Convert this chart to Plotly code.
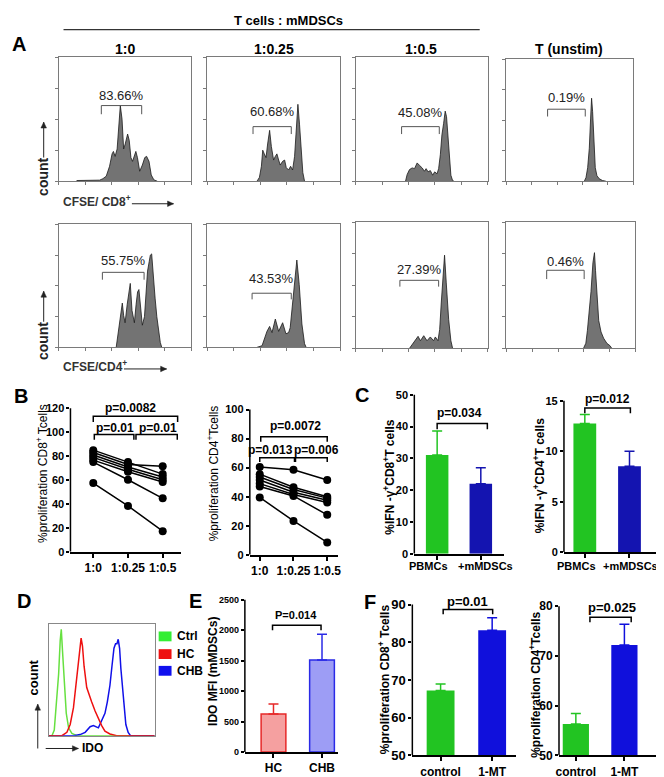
import math
import plotly.graph_objects as go

W, H = 664, 777
FONT = "Liberation Sans, Arial, sans-serif"

# ---------------- data ----------------
# A: CFSE histograms (x = channel 0-100, y = fraction of box height)
cd8_x_10 = [13.6, 30.9, 33.4, 35.9, 38.4, 40.3, 41.3, 42.6, 44.1, 45.3, 46.5, 47.8, 49.0, 50.2, 52.0,
            53.2, 54.5, 55.7, 56.9, 58.2, 59.4, 61.1, 63.1, 64.9, 66.3, 68.1, 69.8, 71.8, 74.3]
cd8_y_10 = [0.005, 0.008, 0.02, 0.04, 0.12, 0.22, 0.24, 0.2, 0.26, 0.45, 0.61, 0.5, 0.26, 0.3, 0.38,
            0.33, 0.19, 0.16, 0.21, 0.24, 0.19, 0.08, 0.13, 0.19, 0.2, 0.16, 0.05, 0.01, 0.0]
cd8_x_025 = [37.5, 39.3, 40.8, 41.8, 43.0, 44.3, 45.5, 47.0, 48.3, 50.0, 51.3, 52.5, 53.8, 55.0,
             56.8, 58.3, 59.5, 61.3, 62.8, 64.3, 65.8, 67.0, 68.3, 69.5, 70.8, 72.0, 73.3]
cd8_y_025 = [0.0, 0.03, 0.12, 0.25, 0.22, 0.19, 0.3, 0.41, 0.28, 0.17, 0.2, 0.22, 0.17, 0.13,
             0.16, 0.17, 0.11, 0.09, 0.12, 0.09, 0.2, 0.44, 0.62, 0.46, 0.22, 0.07, 0.0]
cd8_x_05 = [37.7, 38.9, 40.7, 42.7, 44.5, 46.5, 48.2, 50.3, 52.0, 53.3, 54.8, 56.5, 58.3, 59.8,
            61.6, 62.8, 64.1, 65.3, 66.6, 67.8, 68.8, 69.8, 70.9, 72.1, 73.4, 74.4]
cd8_y_05 = [0.0, 0.053, 0.093, 0.107, 0.101, 0.147, 0.128, 0.107, 0.08, 0.101, 0.075, 0.085, 0.048, 0.075,
            0.059, 0.101, 0.213, 0.373, 0.467, 0.565, 0.52, 0.347, 0.16, 0.048, 0.005, 0.0]
cd8_x_un = [61.4, 62.7, 64.0, 65.3, 66.3, 67.1, 67.9, 68.9, 70.0, 71.3, 73.1, 75.7, 78.3]
cd8_y_un = [0.0, 0.03, 0.11, 0.27, 0.51, 0.68, 0.57, 0.3, 0.11, 0.045, 0.02, 0.005, 0.0]

cd4_x_10 = [43.4, 45.5, 46.8, 48.0, 49.0, 50.1, 51.7, 53.0, 54.0, 55.3, 57.1, 58.4, 59.5, 60.5,
            61.8, 63.1, 64.7, 65.7, 67.0, 68.3, 69.1, 70.1, 71.4, 72.7, 74.0, 75.3, 76.6, 77.7]
cd4_y_10 = [0.0, 0.17, 0.24, 0.36, 0.26, 0.2, 0.35, 0.45, 0.52, 0.3, 0.2, 0.35, 0.45, 0.47,
            0.35, 0.18, 0.25, 0.45, 0.62, 0.7, 0.75, 0.76, 0.55, 0.4, 0.25, 0.12, 0.04, 0.0]
cd4_x_025 = [37.5, 41.3, 45.0, 47.0, 48.8, 51.3, 53.8, 56.8, 59.3, 61.3, 62.5, 63.8, 65.8, 67.5,
             69.3, 71.3, 73.3, 74.5]
cd4_y_025 = [0.0, 0.013, 0.13, 0.17, 0.12, 0.23, 0.13, 0.2, 0.11, 0.12, 0.16, 0.32, 0.53, 0.71,
             0.51, 0.19, 0.03, 0.0]
cd4_x_05 = [40.7, 45.2, 47.2, 49.0, 51.5, 54.0, 56.5, 59.0, 60.3, 62.3, 63.6, 64.8, 66.1, 67.3,
            68.6, 70.4, 72.1, 73.4]
cd4_y_05 = [0.0, 0.06, 0.095, 0.06, 0.1, 0.06, 0.09, 0.06, 0.09, 0.06, 0.15, 0.36, 0.57, 0.74,
            0.52, 0.23, 0.06, 0.0]
cd4_x_un = [59.8, 61.6, 62.8, 64.3, 65.6, 67.1, 67.8, 68.3, 69.1, 70.4, 71.6, 73.4, 75.4, 77.9, 80.4, 81.7]
cd4_y_un = [0.0, 0.04, 0.14, 0.3, 0.45, 0.68, 0.74, 0.76, 0.62, 0.42, 0.22, 0.13, 0.08, 0.04, 0.02, 0.0]

ratio_titles = ["1:0", "1:0.25", "1:0.5", "T (unstim)"]
cd8_pct = ["83.66%", "60.68%", "45.08%", "0.19%"]
cd4_pct = ["55.75%", "43.53%", "27.39%", "0.46%"]
# gate start / end channel
cd8_gates = [(32.2, 62.6), (34.5, 63.3), (34.7, 63.3), (32.4, 62.1)]
cd4_gates = [(33.0, 64.4), (33.8, 63.3), (33.4, 62.8), (31.2, 60.3)]

# B: paired proliferation per donor (1:0, 1:0.25, 1:0.5)
ratios = ["1:0", "1:0.25", "1:0.5"]
cd8_prolif = [[85, 75, 65], [83, 73, 71.5], [81, 71, 62.5], [79, 69, 60.3],
              [76.7, 67, 58.4], [75, 60.3, 44.7], [57.5, 38.4, 17.3]]
cd4_prolif = [[60.5, 58.5, 51.5], [55.5, 46.5, 40], [53.5, 45, 39], [51.5, 43, 37.5],
              [49, 41.5, 36], [47, 40.5, 27.5], [39.5, 23.3, 8.5]]

# C: IFN-gamma+ T cells
c_groups = ["PBMCs", "+mMDSCs"]
ifn_cd8_mean = [31.1, 22.0]
ifn_cd8_sd = [7.5, 5.1]
ifn_cd4_mean = [12.75, 8.5]
ifn_cd4_sd = [0.88, 1.5]

# D: IDO histograms
ido_x_ctrl = [0, 3.1, 5.3, 7.2, 9.4, 10.9, 11.9, 13.1, 14.7, 16.6, 18.8, 21.9, 26.6, 100]
ido_y_ctrl = [0, 0, 0.05, 0.3, 0.55, 0.85, 0.95, 0.75, 0.45, 0.2, 0.07, 0.02, 0, 0]
ido_x_hc = [0, 12.5, 17.2, 20.3, 23.4, 25.6, 27.2, 29.1, 30.6, 31.9, 33.4, 35.9, 38.4, 40.6,
            43.8, 46.9, 50.0, 53.1, 57.8, 64.1, 100]
ido_y_hc = [0, 0, 0.03, 0.1, 0.25, 0.45, 0.62, 0.78, 0.87, 0.8, 0.62, 0.43, 0.37, 0.3,
            0.22, 0.15, 0.09, 0.04, 0.015, 0, 0]
ido_x_chb = [0, 23.4, 29.7, 34.4, 39.1, 42.2, 46.9, 50.0, 53.1, 55.3, 57.8, 59.7, 61.6, 63.1,
             64.4, 65.6, 66.9, 68.1, 69.7, 71.3, 72.8, 75.0, 77.2, 100]
ido_y_chb = [0, 0, 0.01, 0.03, 0.08, 0.09, 0.07, 0.13, 0.2, 0.3, 0.45, 0.62, 0.78, 0.82,
             0.82, 0.86, 0.78, 0.6, 0.4, 0.2, 0.1, 0.03, 0, 0]
ido_groups = ["Ctrl", "HC", "CHB"]

# E: IDO MFI
e_groups = ["HC", "CHB"]
ido_mfi_mean = [625, 1510]
ido_mfi_sd = [165, 425]

# F: 1-MT rescue
f_groups = ["control", "1-MT"]
mt_cd8_mean = [67.2, 83.2]
mt_cd8_sd = [1.7, 3.3]
mt_cd4_mean = [56.3, 72.2]
mt_cd4_sd = [2.1, 4.2]

GREEN = "#22c422"
BLUE_C = "#1414b0"
BLUE_F = "#1010dc"

fig = go.Figure()


def ids(n):
    s = "" if n == 1 else str(n)
    return "x" + s, "y" + s, "xaxis" + s, "yaxis" + s


def add_axes(n, x0, x1, y0, y1, xopt, yopt):
    xr, yr, xk, yk = ids(n)
    fig.update_layout({
        xk: dict(domain=[x0 / W, x1 / W], anchor=yr, showgrid=False, zeroline=False, **xopt),
        yk: dict(domain=[1 - y1 / H, 1 - y0 / H], anchor=xr, showgrid=False, zeroline=False, **yopt),
    })


def ann(xp, yp, text, size, bold=True, angle=0, xanchor="center", color="black"):
    fig.add_annotation(x=xp / W, y=1 - yp / H, xref="paper", yref="paper", text=text,
                       showarrow=False, textangle=angle, xanchor=xanchor, yanchor="middle",
                       font=dict(size=size, color=color, family=FONT,
                                 weight="bold" if bold else "normal"))


def arrow(x0, y0, x1, y1, col="#222"):
    # thin shaft plus a small filled head, in page pixels
    fig.add_shape(type="line", xref="paper", yref="paper", x0=x0 / W, y0=1 - y0 / H,
                  x1=x1 / W, y1=1 - y1 / H, line=dict(color=col, width=1))
    L = math.hypot(x1 - x0, y1 - y0)
    ux, uy = (x1 - x0) / L, (y1 - y0) / L
    bx, by = x1 - 6 * ux, y1 - 6 * uy
    pts = [(x1, y1), (bx - 2.8 * uy, by + 2.8 * ux), (bx + 2.8 * uy, by - 2.8 * ux)]
    path = "M " + " L ".join(f"{px / W:.5f},{1 - py / H:.5f}" for px, py in pts) + " Z"
    fig.add_shape(type="path", xref="paper", yref="paper", path=path, fillcolor=col,
                  line=dict(color=col, width=0.5))


# ---------------- A: CFSE histograms ----------------
hist_x = [cd8_x_10, cd8_x_025, cd8_x_05, cd8_x_un, cd4_x_10, cd4_x_025, cd4_x_05, cd4_x_un]
hist_y = [cd8_y_10, cd8_y_025, cd8_y_05, cd8_y_un, cd4_y_10, cd4_y_025, cd4_y_05, cd4_y_un]
pcts = cd8_pct + cd4_pct
gates = cd8_gates + cd4_gates
boxes = [(48, 182, 45, 171), (198, 332, 45, 171), (348, 481, 45, 171), (500, 628, 47, 171),
         (48, 182, 215, 340), (198, 332, 215, 340), (348, 481, 213, 341), (500, 630, 213, 341)]
gate_lv = [(0.61, 0.54, 0.69), (0.44, 0.38, 0.56), (0.44, 0.38, 0.55), (0.59, 0.53, 0.69),
           (0.61, 0.55, 0.71), (0.44, 0.39, 0.56), (0.54, 0.49, 0.63), (0.62, 0.55, 0.69)]

box_ax = dict(showline=True, mirror=True, linecolor="#7a7a7a", linewidth=1, ticks="outside",
              ticklen=3, tickcolor="#7a7a7a", showticklabels=False)
for i in range(8):
    n = i + 1
    add_axes(n, *boxes[i], dict(range=[0, 100], dtick=20, **box_ax),
             dict(range=[0, 1], dtick=0.25, **box_ax))
    xr, yr, _, _ = ids(n)
    fig.add_trace(go.Scatter(x=hist_x[i], y=hist_y[i], mode="lines", fill="tozeroy",
                             fillcolor="#737373", line=dict(color="#1a1a1a", width=0.8),
                             xaxis=xr, yaxis=yr, showlegend=False, hoverinfo="skip"))
    g0, g1 = gates[i]
    top, leg, ty = gate_lv[i]
    fig.add_trace(go.Scatter(x=[g0, g0, g1, g1], y=[leg, top, top, leg], mode="lines",
                             line=dict(color="#555", width=1), xaxis=xr, yaxis=yr,
                             showlegend=False, hoverinfo="skip"))
    fig.add_annotation(x=(g0 + g1) / 2, y=ty, xref=xr, yref=yr, text=pcts[i], showarrow=False,
                       font=dict(size=13, color="#222", family=FONT))

ann(280, 8, "T cells : mMDSCs", 13)
fig.add_shape(type="line", xref="paper", yref="paper", x0=53 / W, x1=473 / W,
              y0=1 - 17 / H, y1=1 - 17 / H, line=dict(color="black", width=1))
for cx, t in zip([115, 265, 414, 563], ratio_titles):
    ann(cx, 37, t, 14)
ann(8, 32, "A", 20)
ann(33, 167, "count", 14, angle=-90, color="#222")
arrow(33, 147, 33, 111)
ann(33, 334, "count", 14, angle=-90, color="#222")
arrow(33, 314, 33, 283)
ann(50, 191, "CFSE/ CD8<sup>+</sup>", 12, xanchor="left", color="#333")
arrow(122, 194, 164, 194)
ann(50, 359, "CFSE/CD4<sup>+</sup>", 12, xanchor="left", color="#333")
arrow(114, 362, 157, 362)

# ---------------- common for GraphPad-style axes ----------------
AXL = dict(color="black", width=1.5)


def gp_axes(n, x0, x1, y0, y1, xrange, cats, yrange, ytop, ytickvals, tsize, xsize,
            labels=True):
    add_axes(n, x0, x1, y0, y1,
             dict(range=xrange, tickvals=list(range(len(cats))), ticktext=cats, showline=True,
                  linecolor="black", linewidth=1.5, ticks="outside", ticklen=4, tickwidth=1.5,
                  tickcolor="black", tickangle=0, showticklabels=labels,
                  tickfont=dict(size=xsize, family=FONT, color="black", weight="bold")),
             dict(range=yrange, tickvals=ytickvals, showline=False, ticks="outside", ticklen=3,
                  tickwidth=1.5, tickcolor="black",
                  tickfont=dict(size=tsize, family=FONT, color="black", weight="bold")))
    xr, yr, _, _ = ids(n)
    fig.add_shape(type="line", xref=xr + " domain", yref=yr, x0=0, x1=0, y0=yrange[0], y1=ytop,
                  line=AXL)


def bracket(n, x0, x1, ytop, yleg, label, xt, yt, size=12):
    xr, yr, _, _ = ids(n)
    fig.add_shape(type="path", xref=xr, yref=yr,
                  path=f"M {x0},{yleg} L {x0},{ytop} L {x1},{ytop} L {x1},{yleg}",
                  line=dict(color="black", width=1.5))
    fig.add_annotation(x=xt, y=yt, xref=xr, yref=yr, text=label, showarrow=False,
                       font=dict(size=size, family=FONT, color="black", weight="bold"))


def bars(n, means, sds, width, fills, edges, lw=0):
    xr, yr, _, _ = ids(n)
    for i, (m, s) in enumerate(zip(means, sds)):
        fig.add_trace(go.Bar(x=[i], y=[m], width=[width],
                             marker=dict(color=fills[i], line=dict(color=edges[i], width=lw)),
                             error_y=dict(type="data", array=[s], arrayminus=[0], symmetric=False,
                                          color=edges[i], thickness=1.5, width=5),
                             xaxis=xr, yaxis=yr, showlegend=False, hoverinfo="skip"))


# ---------------- B ----------------
gp_axes(9, 60, 172, 399.6, 548, [-0.657, 2.54], ratios, [0, 122], 120,
        [0, 20, 40, 60, 80, 100, 120], 11, 12)
gp_axes(10, 241, 330, 401.8, 551, [-0.294, 2.32], ratios, [0, 101], 100,
        [0, 20, 40, 60, 80, 100], 11, 12)
for row in cd8_prolif:
    fig.add_trace(go.Scatter(x=[0, 1, 2], y=row, mode="lines+markers",
                             line=dict(color="black", width=1.5),
                             marker=dict(color="black", size=8), xaxis="x9", yaxis="y9",
                             showlegend=False, hoverinfo="skip"))
for row in cd4_prolif:
    fig.add_trace(go.Scatter(x=[0, 1, 2], y=row, mode="lines+markers",
                             line=dict(color="black", width=1.5),
                             marker=dict(color="black", size=8), xaxis="x10", yaxis="y10",
                             showlegend=False, hoverinfo="skip"))
bracket(9, 0, 2.43, 113.4, 108.5, "p=0.0082", 1.06, 120.5)
bracket(9, 0.03, 1.17, 98, 93.7, "p=0.01", 0.63, 103.5)
bracket(9, 1.23, 2.42, 98, 93.7, "p=0.01", 1.86, 103.5)
bracket(10, 0.03, 2.0, 81.2, 77.9, "p=0.0072", 1.06, 88.7)
bracket(10, 0, 1.03, 66.8, 63.9, "p=0.013", 0.32, 72.4)
bracket(10, 1.06, 2.0, 66.8, 63.9, "p=0.006", 1.68, 72.4)
ann(10, 390, "B", 20)
ann(31, 468, "%proliferation CD8<sup>+</sup> Tcells", 12, bold=False, angle=-90)
ann(204, 468, "%proliferation CD4<sup>+</sup>Tcells", 12, bold=False, angle=-90)

# ---------------- C ----------------
gp_axes(11, 407, 497, 385.1, 550, [-0.523, 1.52], c_groups, [0, 51], 50,
        [0, 10, 20, 30, 40, 50], 11, 11, labels=False)
gp_axes(12, 558, 662, 391.2, 548.3, [-0.467, 1.84], c_groups, [0, 15.3], 15,
        [0, 5, 10, 15], 11, 11, labels=False)
bars(11, ifn_cd8_mean, ifn_cd8_sd, 0.516, [GREEN, BLUE_C], [GREEN, BLUE_C])
bars(12, ifn_cd4_mean, ifn_cd4_sd, 0.51, [GREEN, BLUE_C], [GREEN, BLUE_C])
# group labels sit a little outside the bar centres in the original
for cx, lab in zip([421, 479, 571, 625], c_groups * 2):
    ann(cx, 562, lab, 11)
bracket(11, 0, 1.15, 41, 39.2, "p=0.034", 0.52, 44.2)
bracket(12, 0, 1.02, 14.28, 13.75, "p=0.012", 0.5, 15.2)
ann(354, 389, "C", 20)
ann(382, 472, "%IFN -γ<sup>+</sup>CD8<sup>+</sup>T cells", 12, angle=-90)
ann(533, 470, "%IFN -γ<sup>+</sup>CD4<sup>+</sup>T cells", 12, angle=-90)

# ---------------- D ----------------
add_axes(13, 38, 145, 621, 735,
         dict(range=[0, 100], showline=True, mirror=True, linecolor="#888", linewidth=1,
              showticklabels=False, ticks=""),
         dict(range=[0, 1], showline=True, mirror=True, linecolor="#888", linewidth=1,
              showticklabels=False, ticks=""))
for xs, ys, col in [(ido_x_ctrl, ido_y_ctrl, "#66e040"), (ido_x_chb, ido_y_chb, "#1010e8"),
                    (ido_x_hc, ido_y_hc, "#ee1010")]:
    fig.add_trace(go.Scatter(x=xs, y=ys, mode="lines", line=dict(color=col, width=1.5),
                             xaxis="x13", yaxis="y13", showlegend=False, hoverinfo="skip"))
for cy, col, lab in zip([634, 652, 669], ["#33ee33", "#ee1010", "#1010ee"], ido_groups):
    fig.add_shape(type="rect", xref="paper", yref="paper", x0=149 / W, x1=162 / W,
                  y0=1 - (cy + 5) / H, y1=1 - (cy - 5) / H, fillcolor=col, line=dict(width=0))
    ann(165, cy, lab, 12, xanchor="left")
arrow(35, 748, 68, 748)
ann(70, 748, "IDO", 12, xanchor="left")
arrow(27, 748, 27, 703)
ann(23, 676, "count", 13, angle=-90)
ann(13, 598, "D", 20)

# ---------------- E ----------------
gp_axes(14, 236, 330, 594.2, 751.7, [-0.59, 1.33], e_groups, [0, 2540], 2500,
        [0, 500, 1000, 1500, 2000, 2500], 9, 12)
bars(14, ido_mfi_mean, ido_mfi_sd, 0.51, ["#f5a0a0", "#9d9df5"], ["#e62828", "#2a2ae6"], lw=1.5)
bracket(14, -0.02, 0.98, 2080, 2000, "P=0.014", 0.47, 2250, size=11)
ann(186, 598, "E", 20)
ann(204, 670, "IDO MFI (mMDSCs)", 12, angle=-90)

# ---------------- F ----------------
gp_axes(15, 405, 510, 597.8, 755, [-0.548, 1.47], f_groups, [50, 91], 90,
        [50, 60, 70, 80, 90], 13, 12)
gp_axes(16, 553, 660, 598.3, 755, [-0.347, 1.837], f_groups, [50, 81], 80,
        [50, 60, 70, 80], 12, 12)
bars(15, mt_cd8_mean, mt_cd8_sd, 0.54, [GREEN, BLUE_F], [GREEN, BLUE_F])
bars(16, mt_cd4_mean, mt_cd4_sd, 0.54, [GREEN, BLUE_F], [GREEN, BLUE_F])
bracket(15, 0.05, 1.01, 88.7, 87.4, "p=0.01", 0.52, 90.9, size=13)
bracket(16, 0.29, 1.14, 77.8, 76.8, "p=0.025", 0.75, 79.7, size=13)
ann(362, 599, "F", 20)
ann(376, 678, "%proliferation CD8<sup>+</sup> Tcells", 12, angle=-90)
ann(528, 683, "%proliferation CD4<sup>+</sup>Tcells", 12, angle=-90)

fig.update_layout(width=W, height=H, margin=dict(l=0, r=0, t=0, b=0),
                  paper_bgcolor="white", plot_bgcolor="white", barmode="overlay",
                  showlegend=False, font=dict(family=FONT, color="black"))

fig.write_html("out.html")
